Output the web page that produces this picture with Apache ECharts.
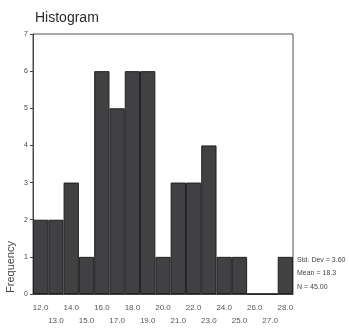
<!DOCTYPE html>
<html>
<head>
<meta charset="utf-8">
<script src="https://cdn.jsdelivr.net/npm/echarts@6/dist/echarts.min.js"></script>
<style>
  html, body { margin: 0; padding: 0; background: #fff; }
  #chart { width: 349px; height: 329px; }
</style>
</head>
<body>
<div id="chart"></div>
<script>
// bin midpoints and counts
var binLabels = ['12.0', '13.0', '14.0', '15.0', '16.0', '17.0', '18.0', '19.0', '20.0',
                 '21.0', '22.0', '23.0', '24.0', '25.0', '26.0', '27.0', '28.0'];
var counts = [2, 2, 3, 1, 6, 5, 6, 6, 1, 3, 3, 4, 1, 1, 0, 0, 1];
var yTicks = [0, 1, 2, 3, 4, 5, 6, 7];
var statLines = ['Std. Dev = 3.60', 'Mean = 18.3', 'N = 45.00'];

var myChart = echarts.init(document.getElementById('chart'));

var option = {
    backgroundColor: '#fff',
    animation: false,
    title: {
        text: 'Histogram',
        left: 30,
        top: 6,
        textStyle: {
            fontFamily: 'Liberation Sans',
            fontSize: 14,
            fontWeight: 'normal',
            color: '#2a2a2a'
        }
    },
    grid: {
        left: 33,
        top: 34,
        width: 260,
        height: 260,
        show: true,
        borderColor: '#555',
        borderWidth: 1
    },
    xAxis: {
        type: 'category',
        data: binLabels,
        axisLine: { lineStyle: { color: '#444', width: 1 } },
        axisTick: { alignWithLabel: true, length: 3, lineStyle: { color: '#4a6fa5' } },
        axisLabel: {
            interval: 0,
            fontFamily: 'Liberation Sans',
            fontSize: 8,
            color: '#555',
            margin: 7,
            lineHeight: 13,
            formatter: function (v, i) {
                return i % 2 === 0 ? v : '\n' + v;
            }
        }
    },
    yAxis: {
        type: 'value',
        min: yTicks[0],
        max: yTicks[yTicks.length - 1],
        interval: 1,
        splitLine: { show: false },
        axisLine: { show: true, lineStyle: { color: '#444', width: 1 } },
        axisTick: { show: true, length: 3, lineStyle: { color: '#444' } },
        axisLabel: {
            fontFamily: 'Liberation Sans',
            fontSize: 7,
            color: '#444',
            margin: 5
        }
    },
    graphic: [{
        type: 'text',
        x: 11,
        y: 267,
        rotation: Math.PI / 2,
        style: {
            text: 'Frequency',
            fontFamily: 'Liberation Sans',
            fontSize: 11,
            fill: '#444',
            align: 'center',
            verticalAlign: 'middle'
        }
    }, {
        type: 'text',
        x: 297,
        y: 253,
        style: {
            text: statLines.join('\n'),
            fontFamily: 'Liberation Sans',
            fontSize: 7,
            lineHeight: 13.5,
            fill: '#444'
        }
    }],
    series: [{
        type: 'bar',
        data: counts,
        barCategoryGap: '0%',
        itemStyle: {
            color: '#414144',
            borderColor: '#1f1f1f',
            borderWidth: 1
        }
    }]
};

myChart.setOption(option);
</script>
</body>
</html>
